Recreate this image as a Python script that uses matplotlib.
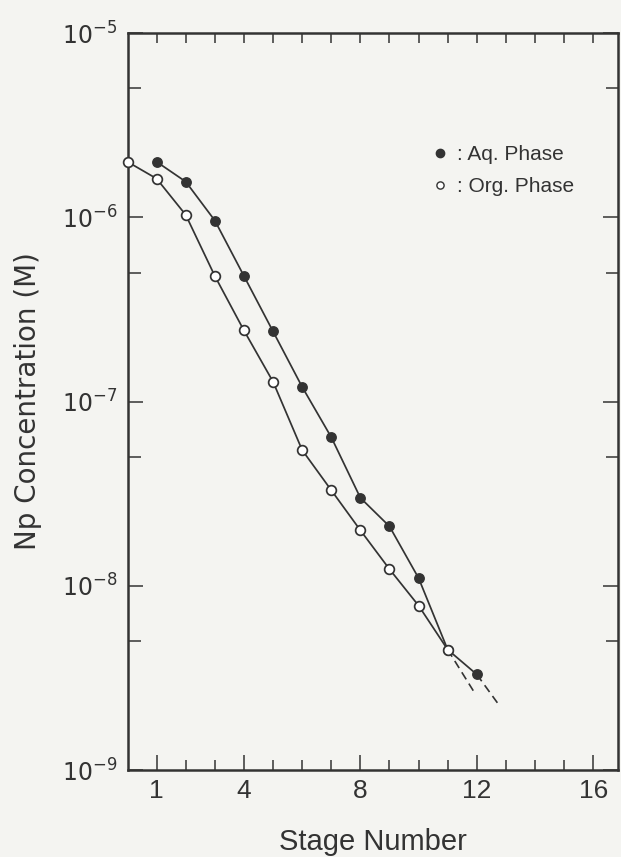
import matplotlib
matplotlib.use("Agg")
import matplotlib.pyplot as plt
from matplotlib.lines import Line2D
from matplotlib.ticker import FixedLocator, NullFormatter

# ---------------- data ----------------
stage_aq = [1, 2, 3, 4, 5, 6, 7, 8, 9, 10, 11, 12]
conc_aq = [2.0e-6, 1.56e-6, 9.6e-7, 4.8e-7, 2.4e-7, 1.2e-7, 6.4e-8, 3.0e-8,
           2.1e-8, 1.1e-8, 4.5e-9, 3.3e-9]
stage_org = [0, 1, 2, 3, 4, 5, 6, 7, 8, 9, 10, 11]
conc_org = [2.0e-6, 1.62e-6, 1.03e-6, 4.8e-7, 2.43e-7, 1.28e-7, 5.45e-8,
            3.3e-8, 2.0e-8, 1.23e-8, 7.8e-9, 4.5e-9]
# dashed extrapolations
ext_org_x = [11, 11.9]
ext_org_y = [4.5e-9, 2.66e-9]
ext_aq_x = [12, 12.8]
ext_aq_y = [3.3e-9, 2.21e-9]

x_major = [1, 4, 8, 12, 16]
x_minor = [2, 3, 5, 6, 7, 9, 10, 11, 13, 14, 15]
x_top = list(range(1, 17))
y_major = [1e-9, 1e-8, 1e-7, 1e-6, 1e-5]
y_major_labels = [r"$10^{-9}$", r"$10^{-8}$", r"$10^{-7}$", r"$10^{-6}$", r"$10^{-5}$"]
y_minor = [5e-9, 5e-8, 5e-7, 5e-6]

legend_labels = [": Aq. Phase", ": Org. Phase"]
xlabel = "Stage Number"
ylabel = "Np Concentration (M)"

# ---------------- style ----------------
ink = "#333333"
bg = "#f4f4f1"
narrow = ["Liberation Sans Narrow", "Liberation Sans", "DejaVu Sans"]
plt.rcParams["font.family"] = ["Liberation Sans", "DejaVu Sans"]
plt.rcParams["mathtext.fontset"] = "custom"
plt.rcParams["mathtext.rm"] = "Liberation Sans Narrow"
plt.rcParams["mathtext.it"] = "Liberation Sans Narrow:italic"
plt.rcParams["mathtext.bf"] = "Liberation Sans Narrow:bold"

W, H = 621, 857
fig = plt.figure(figsize=(W / 100, H / 100), dpi=100, facecolor=bg)
left, right, top, bottom = 127.5, 618, 33, 770
ax = fig.add_axes([left / W, 1 - bottom / H, (right - left) / W, (bottom - top) / H])
ax.set_facecolor(bg)

ax.set_yscale("log")
ax.set_ylim(1e-9, 1e-5)
ax.set_xlim(0, 16.85)

for s in ax.spines.values():
    s.set_linewidth(1.8)
    s.set_color(ink)

# data
ax.plot(stage_aq, conc_aq, "-o", color=ink, lw=1.25, ms=6.8,
        mfc=ink, mec=ink, zorder=3, clip_on=False)
ax.plot(ext_aq_x, ext_aq_y, "--", color=ink, lw=1.2, dashes=(5, 3), zorder=2)
ax.plot(ext_org_x, ext_org_y, "--", color=ink, lw=1.2, dashes=(5, 3), zorder=2)
ax.plot(stage_org, conc_org, "-o", color=ink, lw=1.25, ms=7.0,
        mfc="white", mec=ink, mew=1.25, zorder=4, clip_on=False)

# x ticks
ax.xaxis.set_major_locator(FixedLocator(x_major))
ax.xaxis.set_minor_locator(FixedLocator(x_minor))
ax.set_xticklabels([str(v) for v in x_major])
ax.xaxis.set_minor_formatter(NullFormatter())
ax.tick_params(axis="x", which="major", direction="in", length=10.8, width=1.1,
               color=ink, labelcolor=ink, pad=6.5, labelsize=19, top=False)
ax.tick_params(axis="x", which="minor", direction="in", length=7.0, width=1.1,
               color=ink, top=False)
for lab in ax.get_xticklabels():
    lab.set_family(narrow)

secx = ax.secondary_xaxis("top")
secx.set_xticks(x_top)
secx.tick_params(direction="in", length=7.0, width=1.1, color=ink, labeltop=False)
secx.spines["top"].set_visible(False)

# y ticks
ax.yaxis.set_major_locator(FixedLocator(y_major))
ax.set_yticklabels(y_major_labels)
ax.yaxis.set_minor_locator(FixedLocator(y_minor))
ax.yaxis.set_minor_formatter(NullFormatter())
ax.tick_params(axis="y", which="major", direction="in", length=11, width=1.1,
               color=ink, labelcolor=ink, pad=7.5, labelsize=17, right=True)
ax.tick_params(axis="y", which="minor", direction="in", length=9, width=1.1,
               color=ink, right=True)

# labels
ax.set_xlabel(xlabel, fontsize=21, color=ink, labelpad=18)
ax.set_ylabel(ylabel, fontsize=20, color=ink, labelpad=14, family=["DejaVu Sans"])

# legend
handles = [
    Line2D([], [], ls="none", marker="o", ms=6.0, mfc=ink, mec=ink),
    Line2D([], [], ls="none", marker="o", ms=5.2, mfc="white", mec=ink, mew=1.0),
]
leg = ax.legend(handles, legend_labels, loc="upper left",
                bbox_to_anchor=(0.605, 0.8596), frameon=False, fontsize=15,
                handlelength=0.7, handletextpad=0.45, labelspacing=0.64,
                borderaxespad=0)
for t in leg.get_texts():
    t.set_color(ink)

fig.savefig("out.png", dpi=100, facecolor=bg)
